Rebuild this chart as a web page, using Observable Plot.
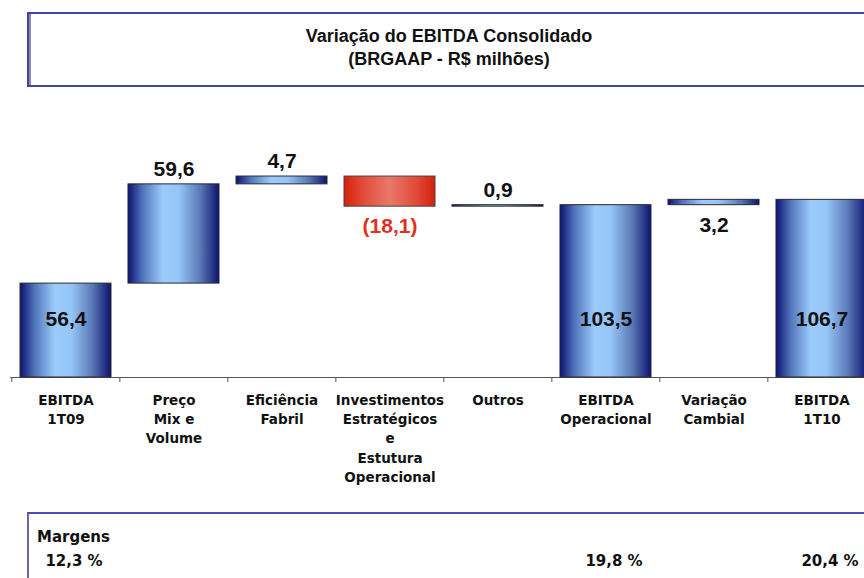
<!DOCTYPE html>
<html>
<head>
<meta charset="utf-8">
<script src="https://cdn.jsdelivr.net/npm/d3@7"></script>
<script src="https://cdn.jsdelivr.net/npm/@observablehq/plot@0.6"></script>
<style>
html, body { margin: 0; padding: 0; background: #fff; }
body { width: 864px; height: 578px; overflow: hidden; position: relative; font-family: "Liberation Sans", Arial, sans-serif; color: #111; }
#titlebox { position: absolute; left: 27px; top: 12px; width: 837px; height: 75px; box-sizing: border-box; border: 2px solid #4343a3; border-right: none; box-shadow: inset 2px 0 0 #8a8ab8; }
#title { position: absolute; left: 0; top: 25px; width: 898px; text-align: center; font-weight: bold; font-size: 18px; line-height: 23px; }
#marginbox { position: absolute; left: 27px; top: 512px; width: 837px; height: 80px; box-sizing: border-box; border-top: 2px solid #4a4ab0; border-left: 2px solid #6666a8; }
#marginlabel { position: absolute; left: 37px; top: 528px; font-family: "DejaVu Sans", sans-serif; font-weight: bold; font-size: 15px; line-height: 18px; }
#chart { position: absolute; left: 0; top: 0; }
</style>
</head>
<body>
<div id="titlebox"></div>
<div id="title">Variação do EBITDA Consolidado<br>(BRGAAP - R$ milhões)</div>
<div id="marginbox"></div>
<div id="marginlabel">Margens</div>
<div id="chart"></div>
<script>
// ---- data ----
const categories = [
  "EBITDA\n1T09",
  "Preço\nMix e\nVolume",
  "Eficiência\nFabril",
  "Investimentos\nEstratégicos\ne\nEstutura\nOperacional",
  "Outros",
  "EBITDA\nOperacional",
  "Variação\nCambial",
  "EBITDA\n1T10"
];
const values = [56.4, 59.6, 4.7, -18.1, 0.9, 103.5, 3.2, 106.7];
const kinds = ["total", "delta", "delta", "delta", "delta", "total", "delta", "total"];
const marginCats = ["EBITDA\n1T09", "EBITDA\nOperacional", "EBITDA\n1T10"];
const marginValues = [12.3, 19.8, 20.4];
const labelBelowCats = new Set(["Variação\nCambial"]);

// ---- waterfall ----
let run = 0;
const rows = categories.map((c, i) => {
  const v = values[i];
  let a, b;
  if (kinds[i] === "total") { a = 0; b = v; run = v; }
  else { a = run; b = run + v; run = b; }
  return { cat: c, v, kind: kinds[i], lo: Math.min(a, b), hi: Math.max(a, b) };
});
const fmt = v => { const s = Math.abs(v).toFixed(1).replace(".", ","); return v < 0 ? `(${s})` : s; };
const isBelow = d => d.kind !== "total" && (d.v < 0 || labelBelowCats.has(d.cat));
const isAbove = d => d.kind !== "total" && !isBelow(d);

const xRange = [10, 876.4];
const step = (xRange[1] - xRange[0]) / categories.length;
const valFont = { fontFamily: "Liberation Sans", fontWeight: "bold", fontSize: 21 };

const svg = Plot.plot({
  width: 864, height: 578,
  marginTop: 0, marginRight: 0, marginBottom: 0, marginLeft: 10,
  style: { background: "transparent", overflow: "hidden" },
  x: { type: "band", domain: categories, range: xRange, paddingInner: 0.16, paddingOuter: 0.08, axis: null },
  y: { domain: [0, 120], range: [377, 177.2], axis: null },
  color: { type: "identity" },
  marks: [
    Plot.ruleY([0], { stroke: "#555", strokeWidth: 1 }),
    Plot.ruleX(categories, { x: d => d, y1: d => 0, y2: d => 0, insetBottom: -5, dx: -step / 2, stroke: "#555" }),
    Plot.barY(rows.filter(d => d.v >= 0), { x: "cat", y1: "lo", y2: "hi", fill: "url(#gBlue)", stroke: "#2a2a2a", strokeWidth: 1 }),
    Plot.barY(rows.filter(d => d.v < 0), { x: "cat", y1: "lo", y2: "hi", fill: "url(#gRed)", stroke: "#444", strokeWidth: 1 }),
    Plot.text(rows.filter(d => d.kind === "total"), { x: "cat", y: d => 0, text: d => fmt(d.v), dy: -58, fill: "#111", ...valFont }),
    Plot.text(rows.filter(isAbove), { x: "cat", y: "hi", text: d => fmt(d.v), dy: -15, fill: "#111", ...valFont }),
    Plot.text(rows.filter(isBelow), { x: "cat", y: "lo", text: d => fmt(d.v), dy: 20, fill: d => d.v < 0 ? "#e2301e" : "#111", ...valFont }),
    Plot.text(categories, { x: d => d, y: d => 0, text: d => d, lineAnchor: "top", dy: 14, lineHeight: 1.42,
      fontFamily: "DejaVu Sans", fontWeight: "bold", fontSize: 13.5, fill: "#111" }),
    Plot.text(marginValues, { x: (d, i) => marginCats[i], frameAnchor: "bottom", lineAnchor: "bottom", dy: -13, dx: 8,
      text: d => d.toFixed(1).replace(".", ",") + " %", fontFamily: "DejaVu Sans", fontWeight: "bold", fontSize: 15, fill: "#111" })
  ]
});

const defs = d3.select(svg).insert("defs", ":first-child");
function grad(id, stops) {
  const g = defs.append("linearGradient").attr("id", id).attr("x1", "0").attr("x2", "1").attr("y1", "0").attr("y2", "0");
  stops.forEach(([o, c]) => g.append("stop").attr("offset", o).attr("stop-color", c));
}
grad("gBlue", [[0, "#0b1273"], [0.16, "#5274ba"], [0.38, "#9acbfb"], [0.56, "#96c6f8"], [0.8, "#5876b4"], [1, "#0c1370"]]);
grad("gRed", [[0, "#d8200c"], [0.2, "#e04a38"], [0.5, "#e8786a"], [0.8, "#e04a38"], [1, "#d51f0c"]]);

document.getElementById("chart").appendChild(svg);
</script>
</body>
</html>
